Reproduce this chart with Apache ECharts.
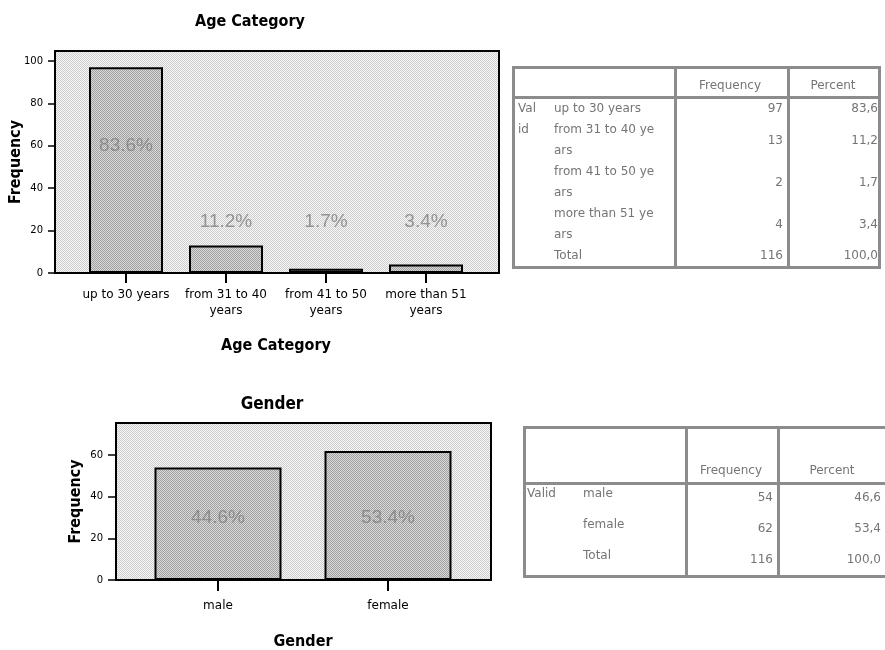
<!DOCTYPE html>
<html>
<head>
<meta charset="utf-8">
<script src="https://cdn.jsdelivr.net/npm/echarts@6.0.0/dist/echarts.min.js"></script>
<style>
  body { margin: 0; background: #fff; }
  #wrap { position: relative; width: 885px; height: 650px; overflow: hidden; }
  #chart { position: absolute; left: 0; top: 0; width: 885px; height: 650px; }
  .tbl { position: absolute; border: 3px solid #8c8c8c; box-sizing: border-box; }
  .vl { position: absolute; top: 0; bottom: 0; width: 3px; background: #8c8c8c; }
  .hl { position: absolute; left: 0; right: 0; height: 3px; background: #8c8c8c; }
  .tx { position: absolute; font: 12px "DejaVu Sans", sans-serif; color: #757575; white-space: pre; line-height: 21px; }
</style>
</head>
<body>
<div id="wrap">
  <div id="chart"></div>
  <div id="tbl1" class="tbl" style="left:512px;top:66px;width:369px;height:203px"></div>
  <div id="tbl2" class="tbl" style="left:523px;top:426px;width:370px;height:152px"></div>
</div>
<script>
// ---- chart data ----
const ageCats = ['up to 30 years', 'from 31 to 40\nyears', 'from 41 to 50\nyears', 'more than 51\nyears'];
const ageFreq = [97, 13, 2, 4];
const agePct = ['83.6%', '11.2%', '1.7%', '3.4%'];
const ageTicks = [0, 20, 40, 60, 80, 100];

const genderCats = ['male', 'female'];
const genderFreq = [54, 62];
const genderPct = ['44.6%', '53.4%'];
const genderTicks = [0, 20, 40, 60];

// ---- table data ----
const tableHead = ['Frequency', 'Percent'];
const ageRows = ['up to 30 years', 'from 31 to 40 ye\nars', 'from 41 to 50 ye\nars', 'more than 51 ye\nars', 'Total'];
const ageRowFreq = [97, 13, 2, 4, 116];
const ageRowPct = ['83,6', '11,2', '1,7', '3,4', '100,0'];
const genderRows = ['male', 'female', 'Total'];
const genderRowFreq = [54, 62, 116];
const genderRowPct = ['46,6', '53,4', '100,0'];

const titleFont = '"DejaVu Sans Condensed", "Liberation Sans Narrow", sans-serif';
const axisFont = '"DejaVu Sans", sans-serif';

function checker(a, b) {
  const c = document.createElement('canvas');
  c.width = 2; c.height = 2;
  const g = c.getContext('2d');
  g.fillStyle = b; g.fillRect(0, 0, 2, 2);
  g.fillStyle = a; g.fillRect(0, 0, 1, 1); g.fillRect(1, 1, 1, 1);
  return { image: c, repeat: 'repeat' };
}
const plotFill = checker('#cdcdcd', '#f7f7f7');
const barFill = checker('#a0a0a0', '#dadada');

// where the percentage labels sit (axis units)
const ageLabelAt = [60, 24, 24, 24];
const genderLabelAt = [30, 30];

const chart = echarts.init(document.getElementById('chart'));

function valueAxis(grid, max, ticks, visible, name, gap, tickLen, margin) {
  return {
    type: 'value', gridIndex: grid, min: 0, max: max, show: visible,
    name: name, nameLocation: 'middle', nameGap: gap, nameMoveOverlap: false,
    nameTextStyle: { fontFamily: titleFont, fontSize: 16, fontWeight: 'bold', color: '#000' },
    axisLine: { show: false },
    axisTick: { show: true, length: tickLen, customValues: ticks, lineStyle: { color: '#000', width: 1.5 } },
    axisLabel: { customValues: ticks, margin: margin, fontFamily: axisFont, fontSize: 10, color: '#000' },
    splitLine: { show: false }
  };
}

function catAxis(grid, cats, name, gap, tickLen, margin) {
  return {
    type: 'category', gridIndex: grid, data: cats,
    name: name, nameLocation: 'middle', nameGap: gap, nameMoveOverlap: false,
    nameTextStyle: { fontFamily: titleFont, fontSize: 16, fontWeight: 'bold', color: '#000' },
    axisLine: { show: false },
    axisTick: { show: true, alignWithLabel: true, length: tickLen, lineStyle: { color: '#000', width: 2 } },
    axisLabel: { margin: margin, interval: 0, fontFamily: axisFont, fontSize: 12, lineHeight: 16, color: '#000' },
    splitLine: { show: false }
  };
}

function pctLabels(cats, at, pct, xi, yi) {
  return {
    type: 'scatter', xAxisIndex: xi, yAxisIndex: yi, symbolSize: 1,
    itemStyle: { color: 'rgba(0,0,0,0)' }, silent: true, z: 5,
    data: cats.map((c, i) => [c, at[i]]),
    label: {
      show: true, position: 'inside', color: '#808080',
      fontFamily: '"Liberation Sans", Arial, sans-serif', fontSize: 19,
      formatter: p => pct[p.dataIndex]
    }
  };
}

const ageMax = 104.7;
const genderMax = 75.4;

chart.setOption({
  animation: false,
  graphic: [
    { type: 'text', x: 250, y: 22, style: { text: 'Age Category', textAlign: 'center', textVerticalAlign: 'middle', font: 'bold 16px ' + titleFont, fill: '#000' } },
    { type: 'text', x: 272, y: 405, style: { text: 'Gender', textAlign: 'center', textVerticalAlign: 'middle', font: 'bold 17px ' + titleFont, fill: '#000' } }
  ],
  grid: [
    { left: 55, top: 51, width: 444, height: 222, outerBoundsMode: 'none', show: true, backgroundColor: plotFill, borderColor: '#000', borderWidth: 2 },
    { left: 76, top: 51, width: 400, height: 222, outerBoundsMode: 'none' },
    { left: 116, top: 423, width: 375, height: 157, outerBoundsMode: 'none', show: true, backgroundColor: plotFill, borderColor: '#000', borderWidth: 2 },
    { left: 133, top: 423, width: 340, height: 157, outerBoundsMode: 'none' }
  ],
  xAxis: [
    { type: 'category', gridIndex: 0, data: [''], show: false },
    catAxis(1, ageCats, 'Age Category', 65, 10, 14),
    { type: 'category', gridIndex: 2, data: [''], show: false },
    catAxis(3, genderCats, 'Gender', 54, 11, 18)
  ],
  yAxis: [
    valueAxis(0, ageMax, ageTicks, true, 'Frequency', 31, 7, 12),
    valueAxis(1, ageMax, ageTicks, false),
    valueAxis(2, genderMax, genderTicks, true, 'Frequency', 32, 8, 13),
    valueAxis(3, genderMax, genderTicks, false)
  ],
  series: [
    {
      type: 'bar', xAxisIndex: 1, yAxisIndex: 1, data: ageFreq, barWidth: 74,
      itemStyle: { color: barFill, borderColor: '#000', borderWidth: 2 }
    },
    pctLabels(ageCats, ageLabelAt, agePct, 1, 1),
    {
      type: 'bar', xAxisIndex: 3, yAxisIndex: 3, data: genderFreq, barWidth: 127,
      itemStyle: { color: barFill, borderColor: '#000', borderWidth: 2 }
    },
    pctLabels(genderCats, genderLabelAt, genderPct, 3, 3)
  ]
});

// ---- tables (SPSS frequency output) ----
function put(box, text, x, y, align, w) {
  const d = document.createElement('div');
  d.className = 'tx';
  d.textContent = text;
  d.style.top = y + 'px';
  if (align === 'right') { d.style.left = (x - w) + 'px'; d.style.width = w + 'px'; d.style.textAlign = 'right'; }
  else if (align === 'center') { d.style.left = (x - w / 2) + 'px'; d.style.width = w + 'px'; d.style.textAlign = 'center'; }
  else d.style.left = x + 'px';
  box.appendChild(d);
}
function line(box, cls, pos) {
  const d = document.createElement('div');
  d.className = cls;
  if (cls === 'vl') d.style.left = pos + 'px'; else d.style.top = pos + 'px';
  box.appendChild(d);
}

// table 1: box origin (512,66) + 3px border
(function () {
  const box = document.getElementById('tbl1');
  const ox = 515, oy = 69;
  line(box, 'vl', 674 - ox); line(box, 'vl', 787 - ox); line(box, 'hl', 96 - oy);
  put(box, tableHead[0], 730 - ox, 75 - oy, 'center', 110);
  put(box, tableHead[1], 833 - ox, 75 - oy, 'center', 90);
  put(box, 'Val\nid', 518 - ox, 98 - oy);
  let y = 98;
  ageRows.forEach((r, i) => {
    const n = r.split('\n').length;
    put(box, r, 554 - ox, y - oy);
    const vy = y + (n - 1) * 10.5;
    put(box, String(ageRowFreq[i]), 783 - ox, vy - oy, 'right', 80);
    put(box, ageRowPct[i], 878 - ox, vy - oy, 'right', 80);
    y += n * 21;
  });
})();

// table 2: box origin (523,426) + 3px border
(function () {
  const box = document.getElementById('tbl2');
  const ox = 526, oy = 429;
  line(box, 'vl', 685 - ox); line(box, 'vl', 777 - ox); line(box, 'hl', 482 - oy);
  put(box, tableHead[0], 731 - ox, 460 - oy, 'center', 100);
  put(box, tableHead[1], 832 - ox, 460 - oy, 'center', 100);
  put(box, 'Valid', 527 - ox, 483 - oy);
  genderRows.forEach((r, i) => {
    const y = 483 + i * 31;
    put(box, r, 583 - ox, y - oy);
    put(box, String(genderRowFreq[i]), 773 - ox, y + 4 - oy, 'right', 80);
    put(box, genderRowPct[i], 881 - ox, y + 4 - oy, 'right', 80);
  });
})();
</script>
</body>
</html>
